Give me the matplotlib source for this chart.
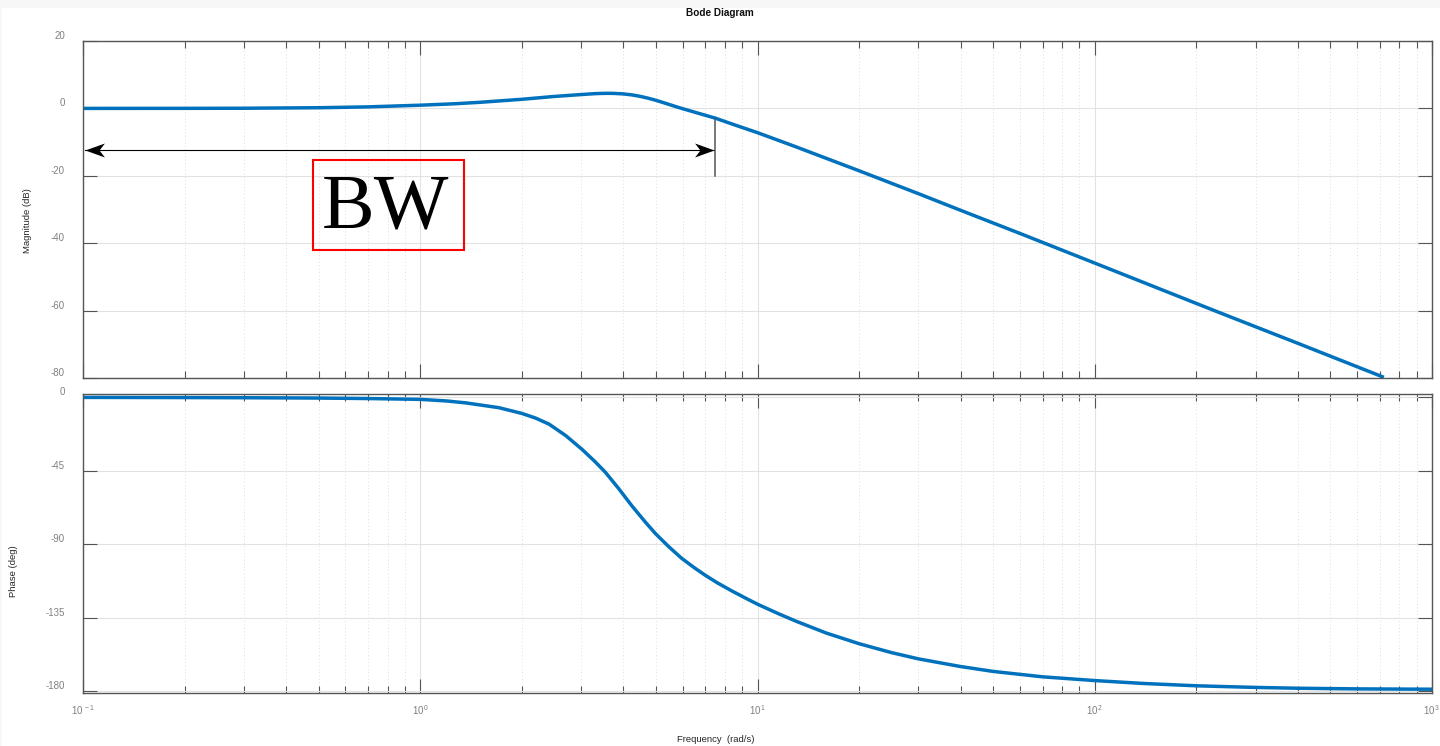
# Bode diagram with bandwidth marker
import numpy as np
import matplotlib.pyplot as plt
import matplotlib as mpl
from matplotlib.path import Path
from matplotlib.patches import Rectangle
from matplotlib.ticker import LogLocator, NullLocator

mpl.rcParams['font.family'] = 'Liberation Sans'
mpl.rcParams['axes.unicode_minus'] = False
mpl.rcParams['mathtext.fontset'] = 'custom'
mpl.rcParams['mathtext.rm'] = 'Liberation Sans'
mpl.rcParams['mathtext.it'] = 'Liberation Sans:italic'
mpl.rcParams['mathtext.bf'] = 'Liberation Sans:bold'

# magnitude (rad/s, dB)
mag_freq = [0.1, 0.2, 0.3, 0.5, 0.7, 1.0, 1.25, 1.5, 2.0, 2.5, 2.8, 3.1, 3.3, 3.46,
            3.6, 3.75, 4.0, 4.25, 4.5, 4.75, 5.0, 5.4, 5.8, 6.5, 7.5, 8.5, 10, 13,
            20, 30, 40.4, 60, 100, 150, 229, 400, 720]
mag_db = [0.0, 0.02, 0.05, 0.2, 0.45, 0.95, 1.35, 1.8, 2.7, 3.55, 3.9, 4.2, 4.38, 4.45,
          4.48, 4.45, 4.3, 4.0, 3.55, 3.0, 2.4, 1.35, 0.35, -1.1, -2.9, -4.8, -7.2,
          -11.4, -18.5, -25.3, -30.4, -37.1, -45.9, -52.9, -60.2, -69.7, -79.8]

# phase (rad/s, deg)
ph_freq = [0.1, 0.2, 0.3, 0.5, 0.7, 1.0, 1.2, 1.37, 1.71, 2.0, 2.2, 2.41, 2.7, 3.02,
           3.3, 3.54, 3.87, 4.24, 4.65, 4.98, 5.45, 5.96, 6.5, 6.99, 7.6, 8.38, 9.2,
           10, 11.5, 13, 16, 20, 25, 30, 40, 50, 70, 100, 140, 200, 300, 400, 600, 1000]
ph_deg = [-0.1, -0.2, -0.3, -0.5, -0.8, -1.3, -2.3, -3.5, -6.4, -9.9, -12.8, -16.5,
          -23.5, -32.0, -39.5, -46.0, -55.8, -66.5, -76.5, -83.5, -91.5, -98.7, -104.5,
          -109.0, -113.7, -118.6, -123.0, -126.8, -132.5, -137.2, -144.5, -151.0,
          -156.5, -160.3, -165.0, -168.0, -171.3, -173.6, -175.4, -176.8, -177.8,
          -178.3, -178.7, -178.9]

freq_ticks = [0.1, 1, 10, 100, 1000]
freq_labels = [r'$10^{\,-1}$', r'$10^{\,0}$', r'$10^{\,1}$', r'$10^{\,2}$', r'$10^{\,3}$']
mag_ticks = [20, 0, -20, -40, -60, -80]
ph_ticks = [0, -45, -90, -135, -180]

# bandwidth annotation
bw_freq = 7.5
bw_level = -3.0
arrow_start = 0.1016
arrow_db = -12.4
box_f = [0.48, 1.35]
box_db = [-41.9, -15.3]
bw_text_pos = (0.79, -35.4)

blue = '#0072BD'
W, H = 1440, 746

fig = plt.figure(figsize=(W / 100, H / 100), dpi=100)
fig.patch.set_facecolor('#f7f7f7')
fig.add_artist(Rectangle((2 / W, 0), 1, 1 - 8 / H, transform=fig.transFigure,
                         facecolor='white', edgecolor='none', zorder=-10))

ax1 = fig.add_axes([83 / W, 1 - 378 / H, 1349 / W, 337 / H])
ax2 = fig.add_axes([83 / W, 1 - 693.3 / H, 1349 / W, 299 / H])


def style(ax):
    ax.set_xscale('log')
    ax.set_xlim(0.1, 1000)
    ax.xaxis.set_minor_locator(LogLocator(base=10, subs=np.arange(2, 10)))
    ax.yaxis.set_minor_locator(NullLocator())
    ax.grid(True, which='major', color='#e2e2e2', lw=0.8)
    ax.grid(True, which='minor', axis='x', color='#dedede', lw=0.7, ls=(0, (1, 2.5)))
    ax.set_axisbelow(True)
    ax.tick_params(which='both', direction='in', top=True, right=True,
                   colors='#555555', labelcolor='#808080', labelsize=7)
    ax.tick_params(which='major', length=10, width=0.8)
    ax.tick_params(which='minor', length=5, width=0.8)
    ax.tick_params(axis='y', pad=13)
    ax.tick_params(axis='x', pad=7)
    for s in ax.spines.values():
        s.set_color('#555555')
        s.set_linewidth(1.0)


style(ax1)
style(ax2)

ax1.semilogx(mag_freq, mag_db, color=blue, lw=2.5, solid_capstyle='butt')
ax1.set_ylim(-80, 20)
ax1.set_yticks(mag_ticks)
ax1.set_xticks(freq_ticks)
ax1.set_xticklabels([])

ax2.semilogx(ph_freq, ph_deg, color=blue, lw=2.5)
ax2.set_ylim(-181.4, 1.8)
ax2.set_yticks(ph_ticks)
ax2.set_xticks(freq_ticks, freq_labels)

for ax in (ax1, ax2):
    plt.setp(ax.get_yticklabels(), va='bottom')

# arrow with stealth heads
head_r = Path([(0, 0), (-1, 0.36), (-0.72, 0), (-1, -0.36), (0, 0)],
              [Path.MOVETO, Path.LINETO, Path.LINETO, Path.LINETO, Path.CLOSEPOLY])
head_l = Path([(0, 0), (1, 0.36), (0.72, 0), (1, -0.36), (0, 0)],
              [Path.MOVETO, Path.LINETO, Path.LINETO, Path.LINETO, Path.CLOSEPOLY])
tip = bw_freq * 0.988
ax1.plot([arrow_start, tip], [arrow_db, arrow_db], color='black', lw=0.8)
ax1.plot([tip], [arrow_db], marker=head_r, ms=28, mfc='black', mew=0, ls='none')
ax1.plot([arrow_start], [arrow_db], marker=head_l, ms=28, mfc='black', mew=0, ls='none')
ax1.plot([bw_freq, bw_freq], [bw_level, -20], color='#555555', lw=1.1)

ax1.add_patch(Rectangle((box_f[0], box_db[0]), box_f[1] - box_f[0], box_db[1] - box_db[0],
                        fill=False, edgecolor='red', lw=1.5))
ax1.text(bw_text_pos[0], bw_text_pos[1], 'BW', family='Liberation Serif', fontsize=57,
         ha='center', va='baseline', color='black')

fig.text(0.5, 1 - 13 / H, 'Bode Diagram', ha='center', va='center',
         fontsize=7.2, fontweight='bold', color='#111111')
fig.text(716 / W, 1 - 739 / H, 'Frequency  (rad/s)', ha='center', va='center',
         fontsize=6.8, color='#262626')
fig.text(27 / W, 1 - 221 / H, 'Magnitude (dB)', rotation=90, ha='center', va='center',
         fontsize=6.8, color='#262626')
fig.text(14 / W, 1 - 571 / H, 'Phase (deg)', rotation=90, ha='center', va='center',
         fontsize=6.8, color='#262626')

fig.savefig('out.png', dpi=100, facecolor=fig.get_facecolor())
